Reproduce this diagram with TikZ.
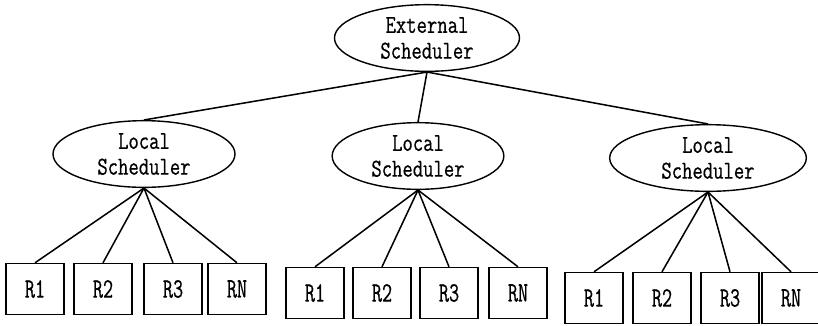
\documentclass[tikz,border=0pt]{standalone}
\usepackage{fontspec}
\newfontfamily\schedfont{Latin Modern Mono}[FakeStretch=0.78,FakeBold=0.6]
\newfontfamily\resfont{Latin Modern Mono}[FakeStretch=0.7,FakeBold=0.6]
\usepackage{tikz}
\usetikzlibrary{positioning,calc}
\usetikzlibrary{shapes.geometric}
\tikzset{
	sched/.style={ellipse,draw=black,line width=1.2pt,inner sep=0pt,minimum width=5.5cm,
		minimum height=2cm,align=center,font=\schedfont\fontsize{22}{22}\selectfont},
	res/.style={rectangle,draw=black,line width=1.2pt,minimum width=1.74cm,
		minimum height=1.53cm,font=\resfont\fontsize{24}{24}\selectfont},
	link/.style={draw=black,line width=1.3pt},
}
\begin{document}
\begin{tikzpicture}[x=0.03cm,y=-0.03cm]
			\useasboundingbox (0,0) rectangle (818,325);
			% schedulers
			\node[sched,minimum width=5.55cm] (ext) at (427,38) {External\\Scheduler};
			\node[sched,minimum width=5.46cm] (loc1) at (144,154) {Local\\Scheduler};
			\node[sched,minimum width=5.15cm] (loc2) at (418,156) {Local\\Scheduler};
			\node[sched,minimum width=5.9cm] (loc3) at (708,158) {Local\\Scheduler};
			\draw[link] (ext.south)--(loc1.north);
			\draw[link] (ext.south)--(loc2.north);
			\draw[link] (ext.south)--(loc3.north);
			% resources of the first site
			\node[res] (r11) at (35,289) {R1};
			\node[res] (r12) at (103,289) {R2};
			\node[res] (r13) at (173,289) {R3};
			\node[res] (r1n) at (237,289) {RN};
			% resources of the second site
			\node[res] (r21) at (315,293) {R1};
			\node[res] (r22) at (382,293) {R2};
			\node[res] (r23) at (449,293) {R3};
			\node[res] (r2n) at (518,293) {RN};
			% resources of the third site
			\node[res] (r31) at (594,298) {R1};
			\node[res] (r32) at (662,298) {R2};
			\node[res] (r33) at (730,298) {R3};
			\node[res] (r3n) at (791,298) {RN};
			\draw[link] (loc1.south)--(r11.north);
			\draw[link] (loc1.south)--(r12.north);
			\draw[link] (loc1.south)--(r13.north);
			\draw[link] (loc1.south)--(r1n.north);
			\draw[link] (loc2.south)--(r21.north);
			\draw[link] (loc2.south)--(r22.north);
			\draw[link] (loc2.south)--(r23.north);
			\draw[link] (loc2.south)--(r2n.north);
			\draw[link] (loc3.south)--(r31.north);
			\draw[link] (loc3.south)--(r32.north);
			\draw[link] (loc3.south)--(r33.north);
			\draw[link] (loc3.south)--(r3n.north);
		\end{tikzpicture}
\end{document}
